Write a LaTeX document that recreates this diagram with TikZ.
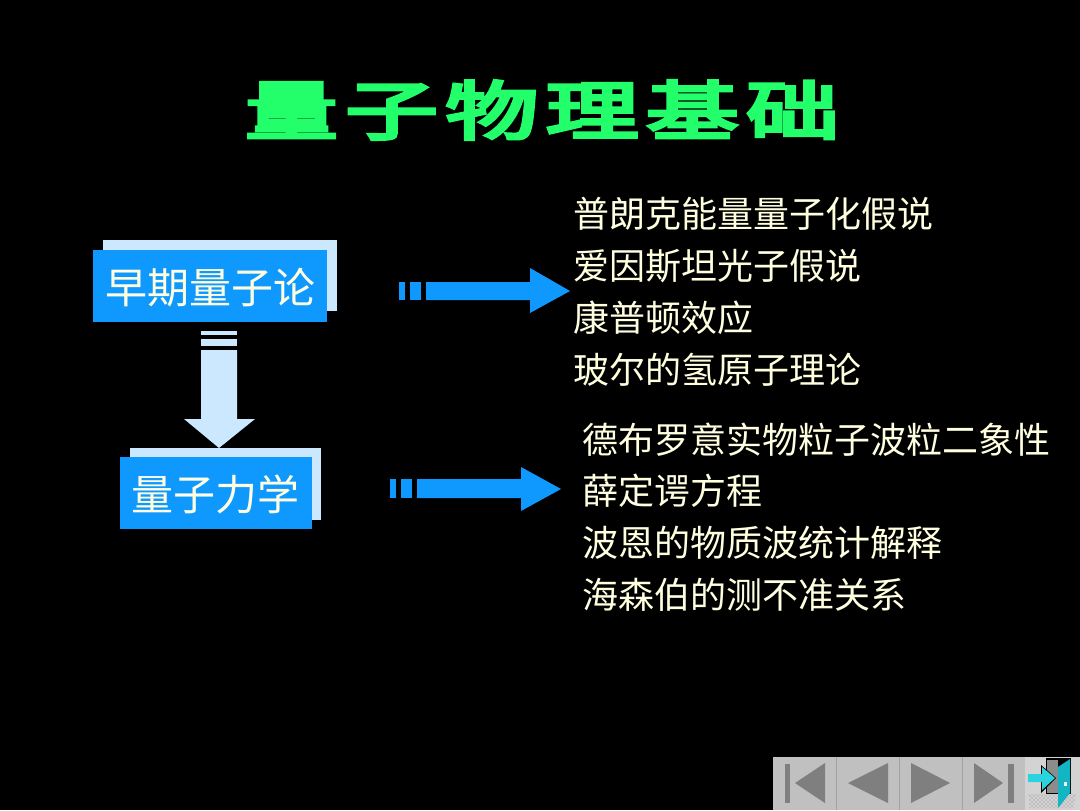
\documentclass[tikz,border=0pt]{standalone}
\usepackage{fontspec}
\usetikzlibrary{patterns}
\newfontfamily\cjk{Noto Sans CJK SC}
\newfontfamily\cjktitle[FakeBold=5,LetterSpace=8]{Noto Sans CJK SC}
\definecolor{cream}{HTML}{FFFFE0}
\definecolor{azure}{HTML}{0F99FF}
\definecolor{pale}{HTML}{CCE8FF}
\definecolor{titlegreen}{HTML}{22FF6A}
\definecolor{navgray}{HTML}{C0C0C0}
\definecolor{navdark}{HTML}{7F7F7F}
\definecolor{doorteal}{HTML}{12B5C4}
\definecolor{arrowcyan}{HTML}{2CD3DF}
\tikzset{
  x=0.75pt,y=-0.75pt,
  listline/.style={anchor=west,inner sep=0pt,text=cream,font=\cjk\fontsize{27}{30}\selectfont},
  boxlabel/.style={anchor=center,inner sep=0pt,text=cream,font=\cjk\fontsize{31.5}{34}\selectfont},
  front/.style={fill=azure,draw=none},
  back/.style={fill=pale,draw=none},
  blue arrow/.style={fill=azure,draw=none},
  pale arrow/.style={fill=pale,draw=none},
  navicon/.style={fill=navdark,draw=none},
}
\begin{document}
\begin{tikzpicture}
\fill[black] (0,0) rectangle (1080,810);
\useasboundingbox (0,0) rectangle (1080,810);
% title
\node[anchor=center,inner sep=0pt,text=titlegreen,xscale=1.45,transform shape,
  font=\cjktitle\fontsize{48}{50}\selectfont] (title) at (542,110) {量子物理基础};
% boxes
\fill[back] (103,240) rectangle (337,311);
\fill[front] (93,250) rectangle (327,322);
\node[boxlabel] (early) at (210,288) {早期量子论};
\fill[back] (130,448) rectangle (321,520);
\fill[front] (120,457) rectangle (312,529);
\node[boxlabel] (qm) at (215,494) {量子力学};
% down arrow
\fill[pale arrow] (201,331) rectangle (237,335);
\fill[pale arrow] (201,339) rectangle (237,346);
\fill[pale arrow] (201,350) -- (237,350) -- (237,419) -- (255,419) -- (219,448) -- (184,419) -- (201,419) -- cycle;
% right arrow 1
\fill[blue arrow] (399,282) rectangle (405,300);
\fill[blue arrow] (410,282) rectangle (421,300);
\fill[blue arrow] (426,282) -- (530,282) -- (530,268) -- (570,291) -- (530,313) -- (530,300) -- (426,300) -- cycle;
% right arrow 2
\fill[blue arrow] (390,479) rectangle (396,498);
\fill[blue arrow] (401,479) rectangle (412,498);
\fill[blue arrow] (417,479) -- (521,479) -- (521,467) -- (561,489) -- (521,511) -- (521,498) -- (417,498) -- cycle;
% lists
\node[listline] (a1) at (573,214) {普朗克能量量子化假说};
\node[listline] (a2) at (573,266) {爱因斯坦光子假说};
\node[listline] (a3) at (573,318) {康普顿效应};
\node[listline] (a4) at (573,370) {玻尔的氢原子理论};
\node[listline] (b1) at (582,440) {德布罗意实物粒子波粒二象性};
\node[listline] (b2) at (582,491) {薛定谔方程};
\node[listline] (b3) at (582,543) {波恩的物质波统计解释};
\node[listline] (b4) at (582,595) {海森伯的测不准关系};
% nav bar
\fill[navgray] (773,757) rectangle (1025,810);
\draw[color=black!15!navgray,line width=0.6pt] (836,757) -- (836,810) (899,757) -- (899,810) (962,757) -- (962,810);
\fill[navicon] (785,764) rectangle (790,803);
\fill[navicon] (795,783) -- (825,763) -- (825,803) -- cycle;
\fill[navicon] (848,783) -- (888,763) -- (888,803) -- cycle;
\fill[navicon] (911,763) -- (950,783) -- (911,803) -- cycle;
\fill[navicon] (974,763) -- (1003,783) -- (974,803) -- cycle;
\fill[navicon] (1008,764) rectangle (1014,803);
% exit icon
\fill[navgray!70!white] (1025,757) rectangle (1080,810);
\fill[pattern=crosshatch dots,pattern color=navdark] (1028,794) -- (1076,794) -- (1074,808) -- (1030,808) -- cycle;
\fill[black] (1046,758) rectangle (1071,794);
\fill[navdark!90!white] (1047,760) rectangle (1058,793);
\fill[black] (1041,765) -- (1056,778) -- (1041,793) -- cycle;
\fill[arrowcyan] (1028,774) -- (1042,774) -- (1042,767) -- (1055,778) -- (1042,790) -- (1042,782) -- (1028,782) -- cycle;
\fill[doorteal] (1058,767) -- (1070,759) -- (1070,793) -- (1058,808) -- cycle;
\fill[white] (1064,782) rectangle (1067,786);
\end{tikzpicture}
\end{document}
